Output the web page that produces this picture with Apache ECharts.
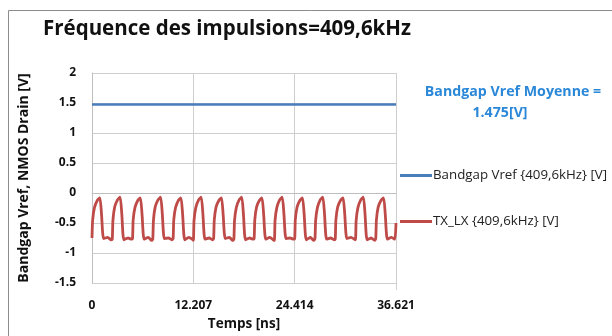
<!DOCTYPE html>
<html>
<head>
<meta charset="utf-8">
<script src="https://cdn.jsdelivr.net/npm/echarts@6/dist/echarts.min.js"></script>
<style>
  html, body { margin: 0; padding: 0; background: #ffffff; }
  #chart { width: 612px; height: 336px; }
</style>
</head>
<body>
<div id="chart"></div>
<script>
// Time axis ticks (ns)
const xTicks = [0, 12.207, 24.414, 36.621];
const yTicks = [-1.5, -1, -0.5, 0, 0.5, 1, 1.5, 2];

// Bandgap reference: mean level 1.475 V over the whole window
const vrefTime = [0, 36.621];
const vrefValue = [1.475, 1.475];

// TX_LX drain waveform (time in ns, value in V)
const txTime = [
  0.00, 0.08, 0.30, 0.65, 0.95, 1.15, 1.40, 1.90, 2.30,
  2.44, 2.52, 2.74, 3.09, 3.39, 3.59, 3.84, 4.34, 4.74,
  4.88, 4.96, 5.18, 5.53, 5.83, 6.03, 6.28, 6.78, 7.18,
  7.32, 7.40, 7.62, 7.97, 8.27, 8.47, 8.72, 9.22, 9.62,
  9.77, 9.85, 10.07, 10.42, 10.72, 10.92, 11.17, 11.67, 12.07,
  12.21, 12.29, 12.51, 12.86, 13.16, 13.36, 13.61, 14.11, 14.51,
  14.65, 14.73, 14.95, 15.30, 15.60, 15.80, 16.05, 16.55, 16.95,
  17.09, 17.17, 17.39, 17.74, 18.04, 18.24, 18.49, 18.99, 19.39,
  19.53, 19.61, 19.83, 20.18, 20.48, 20.68, 20.93, 21.43, 21.83,
  21.97, 22.05, 22.27, 22.62, 22.92, 23.12, 23.37, 23.87, 24.27,
  24.41, 24.49, 24.71, 25.06, 25.36, 25.56, 25.81, 26.31, 26.71,
  26.86, 26.94, 27.16, 27.51, 27.81, 28.01, 28.26, 28.76, 29.16,
  29.30, 29.38, 29.60, 29.95, 30.25, 30.45, 30.70, 31.20, 31.60,
  31.74, 31.82, 32.04, 32.39, 32.69, 32.89, 33.14, 33.64, 34.04,
  34.18, 34.26, 34.48, 34.83, 35.13, 35.33, 35.58, 36.08, 36.48,
  36.621
];
const txValue = [
  -0.75, -0.45, -0.24, -0.12, -0.08, -0.36, -0.76, -0.74, -0.78,
  -0.77, -0.46, -0.23, -0.11, -0.07, -0.35, -0.78, -0.75, -0.77,
  -0.76, -0.45, -0.24, -0.12, -0.08, -0.36, -0.77, -0.74, -0.79,
  -0.77, -0.46, -0.23, -0.11, -0.07, -0.35, -0.76, -0.75, -0.78,
  -0.76, -0.45, -0.24, -0.12, -0.08, -0.36, -0.78, -0.74, -0.77,
  -0.79, -0.46, -0.24, -0.11, -0.07, -0.35, -0.77, -0.75, -0.78,
  -0.76, -0.45, -0.23, -0.12, -0.08, -0.36, -0.76, -0.74, -0.79,
  -0.77, -0.46, -0.24, -0.11, -0.07, -0.35, -0.78, -0.75, -0.77,
  -0.76, -0.45, -0.23, -0.12, -0.08, -0.36, -0.77, -0.74, -0.78,
  -0.79, -0.46, -0.24, -0.11, -0.07, -0.35, -0.76, -0.75, -0.77,
  -0.77, -0.45, -0.23, -0.12, -0.08, -0.36, -0.78, -0.74, -0.79,
  -0.76, -0.46, -0.24, -0.11, -0.07, -0.35, -0.77, -0.75, -0.78,
  -0.77, -0.45, -0.23, -0.12, -0.08, -0.36, -0.76, -0.74, -0.77,
  -0.78, -0.46, -0.24, -0.11, -0.07, -0.35, -0.78, -0.75, -0.79,
  -0.76, -0.45, -0.23, -0.12, -0.08, -0.36, -0.77, -0.74, -0.77,
  -0.50
];

const seriesNames = ['Bandgap Vref {409,6kHz} [V]', 'TX_LX {409,6kHz} [V]'];
const titleText = 'Fréquence des impulsions=409,6kHz';
const noteLines = ['Bandgap Vref Moyenne =', '1.475[V]'];

const FONT = '"Open Sans", sans-serif';

const chart = echarts.init(document.getElementById('chart'), null, { renderer: 'canvas' });

chart.setOption({
  animation: false,
  backgroundColor: '#ffffff',
  title: {
    text: titleText,
    left: 38,
    top: 14,
    textStyle: { fontFamily: FONT, fontSize: 20.5, fontWeight: 'bold', color: '#111111' }
  },
  grid: { left: 92, right: 216, top: 73, bottom: 46, containLabel: false },
  legend: {
    orient: 'vertical',
    left: 395,
    top: 164,
    icon: 'rect',
    itemWidth: 32,
    itemHeight: 3,
    itemGap: 33,
    textStyle: { fontFamily: FONT, fontSize: 13.3, color: '#222222', padding: [0, 0, 0, -4] },
    data: seriesNames
  },
  xAxis: {
    type: 'value',
    min: xTicks[0],
    max: xTicks[xTicks.length - 1],
    interval: xTicks[1] - xTicks[0],
    name: 'Temps [ns]',
    nameLocation: 'middle',
    nameGap: 34,
    nameTextStyle: { fontFamily: FONT, fontSize: 13.5, fontWeight: 'bold', color: '#111111' },
    axisLine: { show: true, lineStyle: { color: '#bfbfbf', width: 1 } },
    axisTick: { show: false },
    axisLabel: {
      fontFamily: FONT, fontSize: 12, fontWeight: 'bold', color: '#111111', margin: 17,
      formatter: v => {
        const i = xTicks.findIndex(t => Math.abs(t - v) < 1e-3);
        return i === 0 ? '0' : (i > 0 ? xTicks[i].toFixed(3) : '');
      }
    },
    splitLine: { show: true, lineStyle: { color: '#cfcfcf', width: 1 } }
  },
  yAxis: {
    type: 'value',
    min: yTicks[0],
    max: yTicks[yTicks.length - 1],
    interval: 0.5,
    name: 'Bandgap Vref, NMOS Drain [V]',
    nameLocation: 'middle',
    nameGap: 61,
    nameRotate: 90,
    nameTextStyle: { fontFamily: FONT, fontSize: 14, fontWeight: 'bold', color: '#111111' },
    axisLine: { show: true, lineStyle: { color: '#bfbfbf', width: 1 } },
    axisTick: { show: false },
    axisLabel: { fontFamily: FONT, fontSize: 12, fontWeight: 'bold', color: '#111111', margin: 16 },
    splitLine: { show: true, lineStyle: { color: '#cfcfcf', width: 1 } }
  },
  graphic: [
    // outer frame (top and left edges)
    { type: 'line', shape: { x1: 8.5, y1: 10.5, x2: 612, y2: 10.5 }, style: { stroke: '#8c8c8c', lineWidth: 1 } },
    { type: 'line', shape: { x1: 8.5, y1: 10.5, x2: 8.5, y2: 336 }, style: { stroke: '#8c8c8c', lineWidth: 1 } },
    // right border of the plot area
    { type: 'line', shape: { x1: 396.5, y1: 73, x2: 396.5, y2: 290 }, style: { stroke: '#cfcfcf', lineWidth: 1 } },
    {
      type: 'text', x: 513, y: 92,
      style: { text: noteLines[0], fontFamily: FONT, fontSize: 14.2, fontWeight: 'bold', fill: '#2b88d8', align: 'center', verticalAlign: 'middle' }
    },
    {
      type: 'text', x: 500, y: 113,
      style: { text: noteLines[1], fontFamily: FONT, fontSize: 14.2, fontWeight: 'bold', fill: '#2b88d8', align: 'center', verticalAlign: 'middle' }
    }
  ],
  series: [
    {
      name: seriesNames[0],
      type: 'line',
      symbol: 'none',
      data: vrefTime.map((t, i) => [t, vrefValue[i]]),
      lineStyle: { color: '#4a7ebb', width: 2.5 },
      itemStyle: { color: '#4a7ebb' }
    },
    {
      name: seriesNames[1],
      type: 'line',
      symbol: 'none',
      smooth: 0.2,
      data: txTime.map((t, i) => [t, txValue[i]]),
      lineStyle: { color: '#be4b48', width: 2.8 },
      itemStyle: { color: '#be4b48' }
    }
  ]
});
</script>
</body>
</html>
